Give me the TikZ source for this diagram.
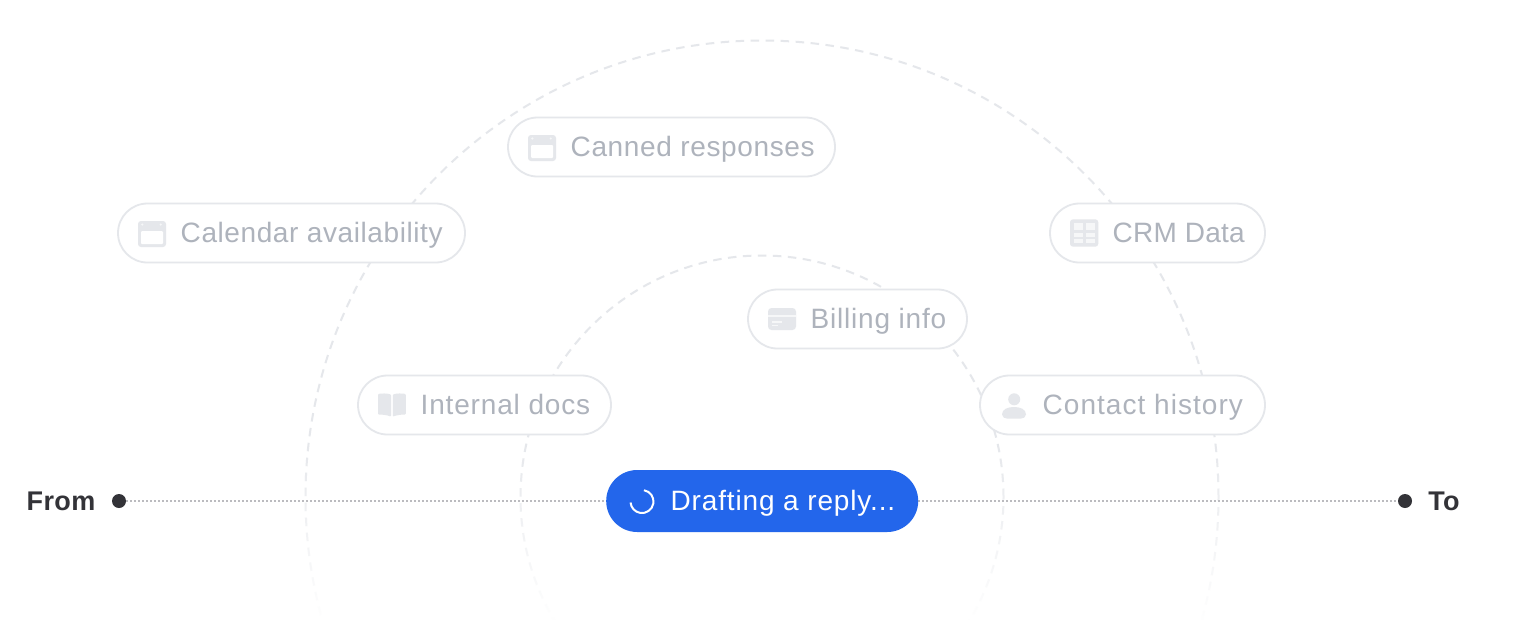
\documentclass[tikz,border=0pt]{standalone}
\usepackage{fontspec}
\setmainfont{Liberation Sans}
\newfontfamily\labelfont[LetterSpace=1.5]{Liberation Sans}
\usetikzlibrary{fadings}
\definecolor{ringgray}{HTML}{E5E7EB}
\definecolor{pillborder}{HTML}{E5E7EB}
\definecolor{icongray}{HTML}{E5E7EB}
\definecolor{iconlight}{HTML}{F6F7F8}
\definecolor{textgray}{HTML}{AEB3BC}
\definecolor{activeblue}{HTML}{2366EB}
\definecolor{inkdark}{HTML}{333338}
\definecolor{wiregray}{HTML}{BBBBBF}
\tikzfading[name=fadedown, top color=transparent!100, bottom color=transparent!0]
\newcommand{\spaced}[2]{\addfontfeature{LetterSpace=#1}#2}
\tikzset{
  ring/.style={draw=ringgray, line width=2pt, dash pattern=on 8.5pt off 6.5pt},
  pill/.style={draw=pillborder, line width=1.8pt, fill=white, rounded corners=29.5pt, minimum height=59pt, inner sep=0pt, outer sep=0pt, anchor=west},
  pilltext/.style={text=textgray, anchor=base west, inner sep=0pt, font=\fontsize{28}{32}\selectfont},
  icon/.style={fill=icongray, draw=none},
  iconhole/.style={fill=white, draw=none},
  iconcell/.style={fill=iconlight, draw=none},
  dot/.style={circle, fill=inkdark, minimum size=14pt, inner sep=0pt},
  wire/.style={draw=wiregray, line width=2pt, dash pattern=on 2pt off 2pt},
  endlabel/.style={text=inkdark, inner sep=0pt, font=\fontsize{27}{32}\selectfont\labelfont\bfseries, anchor=base}
}
\begin{document}
\begin{tikzpicture}[x=1pt,y=-1pt]
\useasboundingbox (0,0) rectangle (1524,640);
\fill[white] (0,0) rectangle (1524,640);
\coordinate (c) at (762,497);
\draw[ring] (c) circle[radius=456.5pt];
\draw[ring] (c) circle[radius=241.5pt];
\fill[white, path fading=fadedown] (0,440) rectangle (1524,622);
\fill[white] (0,620) rectangle (1524,640);
% wire
\node[dot] (from) at (119,501) {};
\node[dot] (to) at (1405,501) {};
\draw[wire] (from) -- (to);
% pills
\node[pill, minimum width=347pt] (cal) at (118,233) {};
\node[pill, minimum width=327pt] (can) at (508,147) {};
\node[pill, minimum width=215pt] (crm) at (1050,233) {};
\node[pill, minimum width=219pt] (bil) at (748,319) {};
\node[pill, minimum width=253pt] (int) at (358,405) {};
\node[pill, minimum width=285pt] (con) at (980,405) {};
\node[draw=none, fill=activeblue, rounded corners=31pt, minimum width=312pt, minimum height=62pt, inner sep=0pt, anchor=west] (act) at (606,501) {};
% texts
\node[pilltext] (tcal) at (180.5,242) {\spaced{2.15}{Calendar availability}};
\node[pilltext] (tcan) at (570.5,156) {\spaced{2.3}{Canned responses}};
\node[pilltext] (tcrm) at (1112.5,242) {\spaced{0.8}{CRM Data}};
\node[pilltext] (tbil) at (810.5,328) {\spaced{2.85}{Billing info}};
\node[pilltext] (tint) at (420.5,414) {\spaced{3}{Internal docs}};
\node[pilltext] (tcon) at (1042.5,414) {\spaced{3.7}{Contact history}};
\node[pilltext, text=white] (tact) at (670.5,510) {\spaced{3}{Drafting a reply...}};
\node[endlabel] (lfrom) at (61,510) {From};
\node[endlabel] (lto) at (1444,510) {To};
% calendar icons
\foreach \ix/\iy in {138/221, 528/135} {
  \fill[icon, rounded corners=3pt] (\ix,\iy) rectangle ++(28,26);
  \fill[iconhole, rounded corners=1pt] (\ix+3,\iy+10) rectangle ++(22,13);
  \fill[iconcell] (\ix+4.3,\iy+3.5) circle[radius=1.2pt];
  \fill[iconcell] (\ix+22.7,\iy+3.5) circle[radius=1.2pt];
}
% grid icon
\fill[icon, rounded corners=3pt] (1070,219.3) rectangle (1098.3,246.7);
\foreach \ix/\iw in {1073.5/9.8,1085.7/9.5} {
  \fill[iconcell] (\ix,223) rectangle ++(\iw,7);
  \fill[iconcell] (\ix,232.7) rectangle ++(\iw,4);
  \fill[iconcell] (\ix,239.3) rectangle ++(\iw,4);
}
% card icon
\fill[icon, rounded corners=3.5pt] (768,308) rectangle (796,330);
\fill[iconcell] (768,315) rectangle (796,316.5);
\fill[iconcell] (772,321) rectangle (782,322.5);
\fill[iconcell] (772,324.5) rectangle (777.7,326);
% book icon
\fill[icon, rounded corners=1pt] (378,394) .. controls (382,393.3) and (387,393.3) .. (391,394.5) -- (391,416.7) .. controls (387,415) and (382,414.5) .. (378,414.5) -- cycle;
\fill[icon, rounded corners=1pt] (405.8,394) .. controls (401.8,393.3) and (396.8,393.3) .. (392.8,394.5) -- (392.8,416.7) .. controls (396.8,415) and (401.8,414.5) .. (405.8,414.5) -- cycle;
% person icon
\fill[icon] (1014.2,399.3) circle[radius=6pt];
\fill[icon] (1002,414.5) .. controls (1002,409) and (1008,407) .. (1014,407) .. controls (1020,407) and (1026,409) .. (1026,414.5) .. controls (1026,417.5) and (1023,418.5) .. (1021,418.5) -- (1007,418.5) .. controls (1005,418.5) and (1002,417.5) .. (1002,414.5) -- cycle;
% spinner
\draw[white, line width=2pt] (644,490.2) arc[start angle=80, end angle=-175, radius=11.5pt];
\end{tikzpicture}
\end{document}
